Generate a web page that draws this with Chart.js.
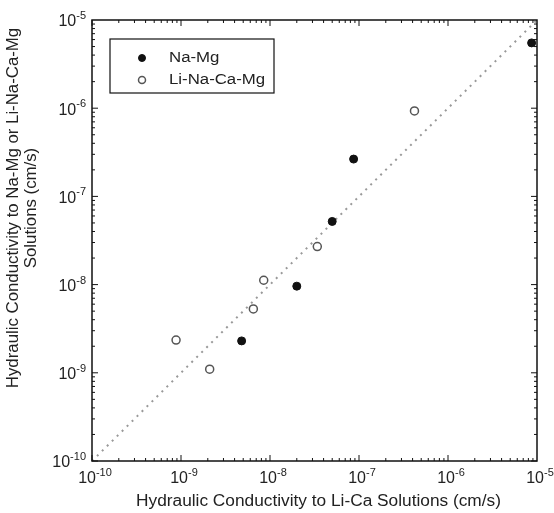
<!DOCTYPE html>
<html>
<head>
<meta charset="utf-8">
<script src="https://cdn.jsdelivr.net/npm/chart.js@4"></script>
<style>
  body { margin: 0; background: #fff; }
  canvas { display: block; }
</style>
</head>
<body>
<canvas id="graph" width="554" height="513"></canvas>
<script>
// data (cm/s)
const seriesNames = ["Na-Mg", "Li-Na-Ca-Mg"];
const naMgX = [4.8e-9, 2.0e-8, 5.0e-8, 8.7e-8, 8.7e-6];
const naMgY = [2.3e-9, 9.6e-9, 5.2e-8, 2.65e-7, 5.5e-6];
const liX   = [8.8e-10, 2.1e-9, 6.5e-9, 8.5e-9, 3.4e-8, 4.2e-7];
const liY   = [2.35e-9, 1.1e-9, 5.3e-9, 1.12e-8, 2.7e-8, 9.3e-7];
const oneToOne = [1e-10, 1e-5];
const tickExps = [-10, -9, -8, -7, -6, -5];
const xTitle = "Hydraulic Conductivity to Li-Ca Solutions (cm/s)";
const yTitle = ["Hydraulic Conductivity to Na-Mg or Li-Na-Ca-Mg", "Solutions (cm/s)"];

const FONT = "'Liberation Sans', Arial, sans-serif";

function pairs(xs, ys){
    let out = [];
    for (let i = 0; i < xs.length; i++){
        out.push({x: xs[i], y: ys[i]});
    }
    return out;
}

// text stretched a little sideways, like the scanned figure
function stretchText(ctx, txt, x, y, size, stretch, align){
    ctx.save();
    ctx.font = size + "px " + FONT;
    ctx.fillStyle = "#222";
    ctx.textBaseline = "middle";
    ctx.textAlign = align;
    ctx.translate(x, y);
    ctx.scale(stretch, 1);
    ctx.fillText(txt, 0, 0);
    ctx.restore();
}

// label like 10^-7 with a small raised exponent
function drawPow(ctx, x, y, exp, align){
    ctx.font = "16px " + FONT;
    let wb = ctx.measureText("10").width;
    ctx.font = "11px " + FONT;
    let e = String(exp);
    let we = ctx.measureText(e).width;
    let x0 = x;
    if (align == "center") x0 = x - (wb + we) / 2;
    if (align == "right")  x0 = x - (wb + we);
    ctx.fillStyle = "#222";
    ctx.textBaseline = "middle";
    ctx.textAlign = "left";
    ctx.font = "16px " + FONT;
    ctx.fillText("10", x0, y);
    ctx.font = "11px " + FONT;
    ctx.fillText(e, x0 + wb, y - 6);
}

const framePlugin = {
    id: "frame",
    afterDraw(chart){
        const ctx = chart.ctx;
        const a = chart.chartArea;
        const sx = chart.scales.x;
        const sy = chart.scales.y;
        ctx.save();

        // box
        ctx.strokeStyle = "#111";
        ctx.lineWidth = 1.5;
        ctx.strokeRect(a.left, a.top, a.right - a.left, a.bottom - a.top);

        // inward ticks, all four sides
        ctx.lineWidth = 1;
        ctx.beginPath();
        for (let k = tickExps[0]; k < tickExps[tickExps.length - 1]; k++){
            for (let m = 1; m <= 9; m++){
                let v = m * Math.pow(10, k);
                let len = (m == 1) ? 6 : 3;
                let px = sx.getPixelForValue(v);
                let py = sy.getPixelForValue(v);
                ctx.moveTo(px, a.bottom); ctx.lineTo(px, a.bottom - len);
                ctx.moveTo(px, a.top);    ctx.lineTo(px, a.top + len);
                ctx.moveTo(a.left, py);   ctx.lineTo(a.left + len, py);
                ctx.moveTo(a.right, py);  ctx.lineTo(a.right - len, py);
            }
        }
        ctx.stroke();

        // tick labels
        for (let e of tickExps){
            let v = Math.pow(10, e);
            drawPow(ctx, sx.getPixelForValue(v) + 3, a.bottom + 18, e, "center");
            drawPow(ctx, a.left - 6, sy.getPixelForValue(v) + 2, e, "right");
        }

        // axis titles
        stretchText(ctx, xTitle, (a.left + a.right) / 2 + 4, 502, 16, 1.08, "center");
        ctx.translate(14, 208);
        ctx.rotate(-Math.PI / 2);
        stretchText(ctx, yTitle[0], 0, 0, 16, 1.05, "center");
        stretchText(ctx, yTitle[1], 0, 18, 16, 1.05, "center");
        ctx.setTransform(1, 0, 0, 1, 0, 0);

        // legend box
        ctx.strokeStyle = "#111";
        ctx.lineWidth = 1.2;
        ctx.strokeRect(110, 39, 164, 54);
        const ds = chart.data.datasets;
        for (let i = 0; i < seriesNames.length; i++){
            let yy = 58 + i * 22;
            ctx.beginPath();
            ctx.arc(142, yy, 3.5, 0, Math.PI * 2);
            ctx.fillStyle = ds[i].backgroundColor;
            ctx.fill();
            ctx.strokeStyle = ds[i].borderColor;
            ctx.lineWidth = ds[i].borderWidth;
            ctx.stroke();
            stretchText(ctx, seriesNames[i], 169, yy, 14, 1.2, "left");
        }
        ctx.restore();
    }
};

const ctx = document.getElementById("graph").getContext("2d");
const myChart = new Chart(ctx, {
    type: "scatter",
    data: {
        datasets: [
            {
                label: seriesNames[0],
                data: pairs(naMgX, naMgY),
                pointRadius: 4,
                backgroundColor: "#111",
                borderColor: "#111",
                borderWidth: 1
            },
            {
                label: seriesNames[1],
                data: pairs(liX, liY),
                pointRadius: 4,
                backgroundColor: "#fff",
                borderColor: "#555",
                borderWidth: 1.5
            },
            {
                label: "1:1",
                data: pairs(oneToOne, oneToOne),
                showLine: true,
                pointRadius: 0,
                borderColor: "#999",
                borderWidth: 2,
                borderDash: [2, 5]
            }
        ]
    },
    options: {
        responsive: false,
        animation: false,
        devicePixelRatio: 1,
        layout: { padding: { left: 0, top: 20, right: 17, bottom: 0 } },
        plugins: {
            legend: { display: false },
            tooltip: { enabled: false }
        },
        scales: {
            x: {
                type: "logarithmic",
                min: 1e-10,
                max: 1e-5,
                grid: { display: false },
                border: { display: false },
                ticks: { display: false },
                afterFit(scale){ scale.height = 52; }
            },
            y: {
                type: "logarithmic",
                min: 1e-10,
                max: 1e-5,
                grid: { display: false },
                border: { display: false },
                ticks: { display: false },
                afterFit(scale){ scale.width = 92; }
            }
        }
    },
    plugins: [framePlugin]
});
</script>
</body>
</html>
